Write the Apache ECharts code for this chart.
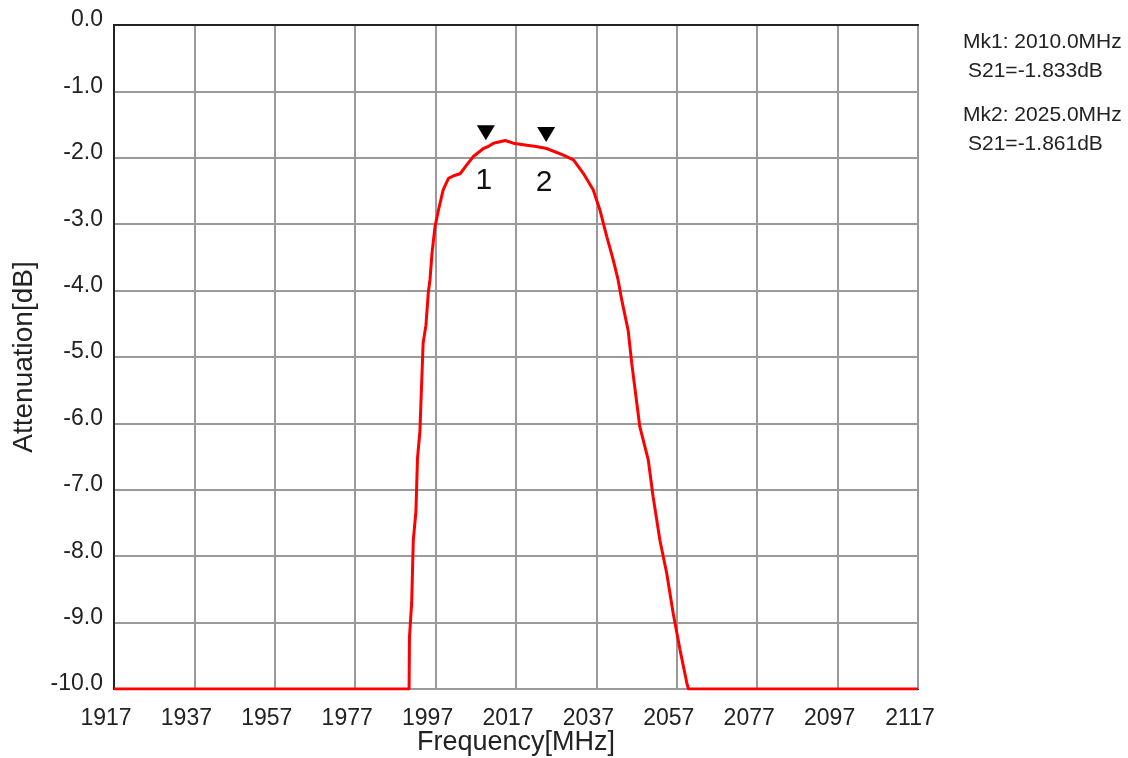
<!DOCTYPE html>
<html>
<head>
<meta charset="utf-8">
<script src="https://cdn.jsdelivr.net/npm/echarts@6/dist/echarts.min.js"></script>
<style>
  html, body { margin: 0; padding: 0; background: #fff; }
  #main { width: 1128px; height: 758px; }
</style>
</head>
<body>
<div id="main"></div>
<script>
// frequency [MHz] and S21 [dB]
var freqs = [1917, 1990.4, 1990.5, 1991.05, 1991.45, 1992.1, 1992.5, 1993.1, 1993.5, 1993.9, 1994.6, 1995.2, 1995.6,
  1996.1, 1996.85, 1997.7, 1998.9, 2000.2, 2001.5, 2003.1, 2004.7, 2006.4, 2008.9, 2010, 2011.4, 2014.3, 2016.3,
  2019.7, 2022, 2024.6, 2025, 2028.8, 2031.3, 2033.7, 2036.2, 2037.9, 2039.6, 2041.2, 2042.4, 2043.3, 2044.9,
  2045.8, 2047.8, 2049.9, 2051.1, 2052.8, 2054.5, 2056.1, 2057.8, 2059.5, 2059.9, 2117];
var s21 = [-10, -10, -9.22, -8.7, -7.76, -7.33, -6.52, -6.12, -5.44, -4.79, -4.52, -4.02, -3.84,
  -3.44, -3.04, -2.79, -2.48, -2.31, -2.27, -2.24, -2.11, -1.98, -1.86, -1.833, -1.78, -1.74, -1.78,
  -1.81, -1.83, -1.86, -1.861, -1.96, -2.03, -2.23, -2.48, -2.79, -3.19, -3.54, -3.84, -4.14, -4.6,
  -5.1, -6.05, -6.55, -7.10, -7.76, -8.26, -8.86, -9.41, -9.91, -10, -10];

var markerNames = ['1', '2'];
var markerFreqs = [2010.0, 2025.0];
var markerVals = [-1.833, -1.861];

var xTicks = [1917, 1937, 1957, 1977, 1997, 2017, 2037, 2057, 2077, 2097, 2117];

var chart = echarts.init(document.getElementById('main'));

var lineData = [];
for (var i = 0; i < freqs.length; i++) {
  lineData.push([freqs[i], s21[i]]);
}
var mkData = [];
for (var j = 0; j < markerFreqs.length; j++) {
  mkData.push({ value: [markerFreqs[j], markerVals[j]], name: markerNames[j] });
}

var font = '"Liberation Sans", Arial, sans-serif';
// marker readout on the right
var side = [];
for (var k = 0; k < markerFreqs.length; k++) {
  side.push({
    type: 'text', left: 963, top: 32 + k * 73,
    style: { text: 'Mk' + (k + 1) + ': ' + markerFreqs[k].toFixed(1) + 'MHz', font: '21px ' + font, fill: '#222' }
  });
  side.push({
    type: 'text', left: 968, top: 61 + k * 73,
    style: { text: 'S21=' + markerVals[k].toFixed(3) + 'dB', font: '21px ' + font, fill: '#222' }
  });
}

var option = {
  animation: false,
  backgroundColor: '#fff',
  grid: {
    left: 114, top: 25, right: 210, bottom: 69,
    outerBoundsMode: 'none',
    show: true, borderColor: '#222', borderWidth: 2
  },
  xAxis: {
    type: 'value', min: 1917, max: 2117, interval: 20,
    name: 'Frequency[MHz]', nameLocation: 'middle', nameGap: 40, nameMoveOverlap: false,
    nameTextStyle: { fontFamily: font, fontSize: 27, color: '#222' },
    axisLine: { show: true, lineStyle: { color: '#222', width: 2 } },
    axisTick: { show: false },
    axisLabel: { fontFamily: font, fontSize: 23, color: '#222', margin: 18, padding: [0, 16, 0, 0],
      formatter: function (v) { return xTicks.indexOf(v) >= 0 ? String(v) : ''; } },
    splitLine: { show: true, lineStyle: { color: '#9a9a9a', width: 2 } }
  },
  yAxis: {
    type: 'value', min: -10, max: 0, interval: 1,
    name: 'Attenuation[dB]', nameLocation: 'middle', nameGap: 76, nameRotate: 90, nameMoveOverlap: false,
    nameTextStyle: { fontFamily: font, fontSize: 28, color: '#222' },
    axisLine: { show: true, lineStyle: { color: '#222', width: 2 } },
    axisTick: { show: false },
    axisLabel: { fontFamily: font, fontSize: 23, color: '#222', margin: 11, verticalAlign: 'bottom',
      lineHeight: 10,
      formatter: function (v) { return v.toFixed(1); } },
    splitLine: { show: true, lineStyle: { color: '#9a9a9a', width: 2 } }
  },
  series: [
    {
      type: 'line', data: lineData, showSymbol: false, symbol: 'none',
      lineStyle: { color: '#ff0000', width: 3 }, z: 3
    },
    {
      type: 'scatter', data: mkData, symbol: 'triangle', symbolRotate: 180,
      symbolSize: [18, 15], symbolOffset: [-2, -14],
      itemStyle: { color: '#000', opacity: 1 }, z: 4,
      label: { show: true, position: 'bottom', distance: 14, formatter: '{b}',
        fontFamily: font, fontSize: 30, color: '#111', offset: [-2, 12] }
    }
  ],
  graphic: side
};
chart.setOption(option);
</script>
</body>
</html>
